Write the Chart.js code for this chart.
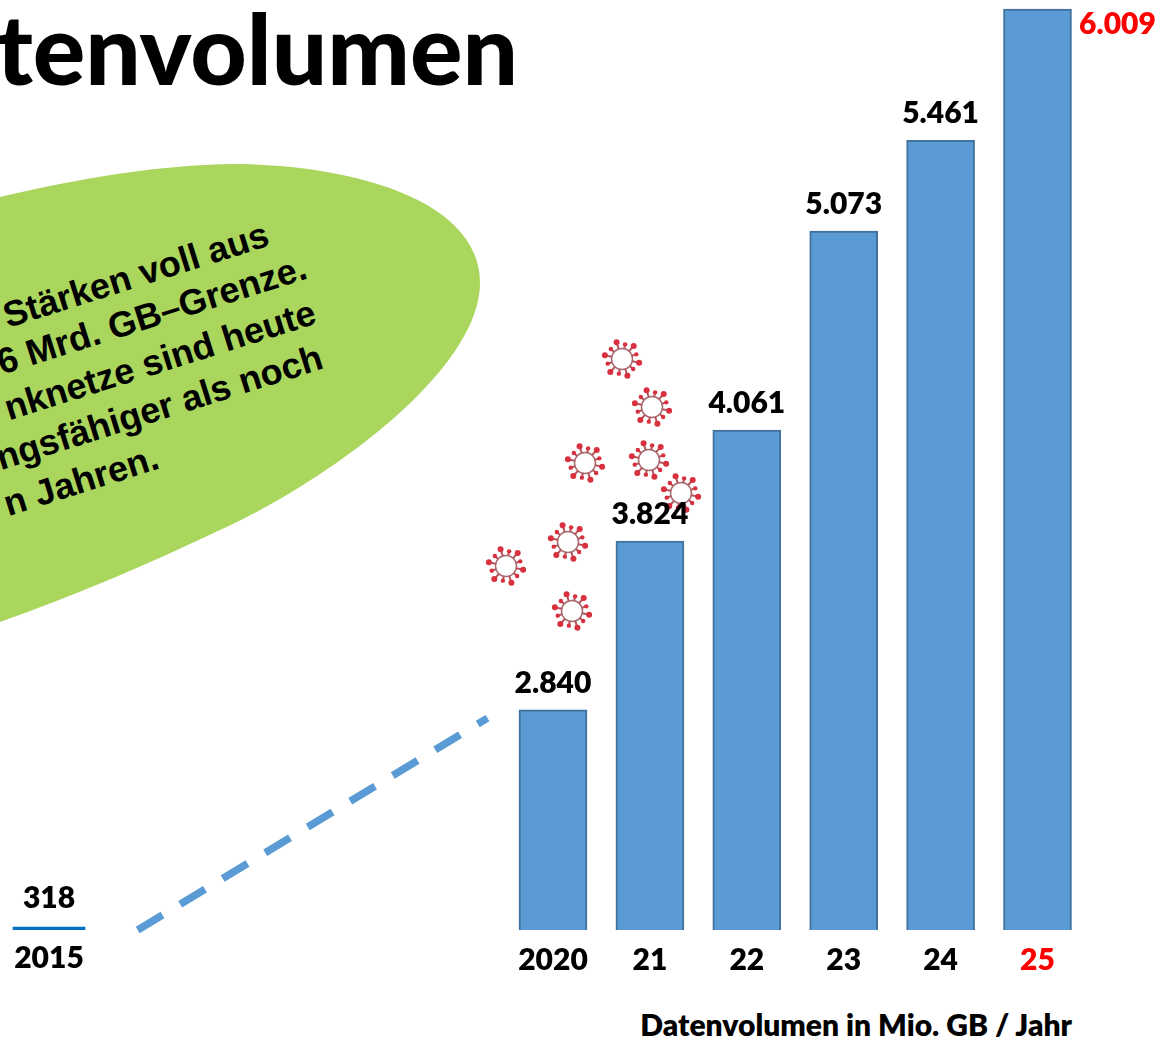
<!DOCTYPE html>
<html lang="de">
<head>
<meta charset="utf-8">
<title>Datenvolumen</title>
<script src="https://cdn.jsdelivr.net/npm/chart.js@4"></script>
<style>
    html, body { margin: 0; padding: 0; background: #fff; overflow: hidden; }
    #wrap { position: relative; width: 1156px; height: 1041px; overflow: hidden; }
    #deko, #myChart { position: absolute; left: 0; top: 0; }
</style>
</head>
<body>
<div id="wrap">
    <svg id="deko" width="1156" height="1041" viewBox="0 0 1156 1041">
        <path d="M0,197 C80,178 160,165 233,164 C340,164 480,195 480,283 C480,370 330,480 220,530 C140,568 70,597 0,622 Z" fill="#AAD65E"/>
        <text x="518" y="85" text-anchor="end" font-family="Lato" font-weight="900" font-size="98" fill="#000">Datenvolumen</text>
        <g font-family="Liberation Sans" font-weight="700" font-size="36" fill="#000" text-anchor="end">
            <text transform="translate(271,245) rotate(-17.5)">Stärken voll aus</text>
            <text transform="translate(309,278) rotate(-17.5)">6 Mrd. GB–Grenze.</text>
            <text transform="translate(318,323) rotate(-17.5)">nknetze sind heute</text>
            <text transform="translate(325,368) rotate(-17.5)">ngsfähiger als noch</text>
            <text transform="translate(161,468) rotate(-17.5)">n Jahren.</text>
        </g>
        <text x="1072" y="1036" text-anchor="end" font-family="Lato" font-weight="800" font-size="30" fill="#000">Datenvolumen in Mio. GB / Jahr</text>
        <g id="viren"></g>
    </svg>
    <canvas id="myChart" width="1156" height="1041"></canvas>
</div>
<script>
// Balken 2020-25
const years = [2020, 2021, 2022, 2023, 2024, 2025];
const yearLabels = ['2020', '21', '22', '23', '24', '25'];
const valueLabels = ['2.840', '3.824', '4.061', '5.073', '5.461', '6.009'];
// the bars in the picture are not drawn to scale: these are their heights
const barValues = [2840, 3603, 4105, 5005, 5416, 6009];

// 2015 on its own, much smaller scale
const earlyYear = [2015];
const earlyYearLabel = ['2015'];
const earlyValue = [318];
const earlyValueLabel = ['318'];

// gestrichelte Linie
const trendYears = [2015.88, 2019.35];
const trendValues = [1845, 2803];

const blau = '#5B9BD5';
const rot = '#FF0000';
const schrift = '800 30px Lato';

// Virus Deko
const viren = [[622, 359], [652, 407], [585, 463], [649, 460], [681, 493], [568, 542], [506, 566], [572, 611]];
const svgNS = 'http://www.w3.org/2000/svg';
const virenG = document.querySelector('#viren');

function svgEl(name, attrs) {
    const el = document.createElementNS(svgNS, name);
    for (const k in attrs) {
        el.setAttribute(k, attrs[k]);
    }
    virenG.appendChild(el);
    return el;
}

for (const v of viren) {
    svgEl('circle', { cx: v[0], cy: v[1], r: 10.5, fill: '#fff', stroke: '#A86B6F', 'stroke-width': 1.5 });
    for (let n = 0; n < 12; n++) {
        const w = (n * 30 + 12) * Math.PI / 180;
        const lang = n % 2 === 0 ? 17.5 : 15;
        const x1 = v[0] + Math.cos(w) * 10.5;
        const y1 = v[1] + Math.sin(w) * 10.5;
        const x2 = v[0] + Math.cos(w) * lang;
        const y2 = v[1] + Math.sin(w) * lang;
        svgEl('line', { x1: x1, y1: y1, x2: x2, y2: y2, stroke: '#B4535A', 'stroke-width': 2 });
        svgEl('circle', { cx: x2, cy: y2, r: n % 2 === 0 ? 3 : 2.2, fill: '#D8303F' });
    }
}

// Beschriftungen an den Balken
const wertePlugin = {
    id: 'werte',
    afterDatasetsDraw(chart) {
        const ctx = chart.ctx;
        ctx.save();
        ctx.font = schrift;
        ctx.textAlign = 'center';
        ctx.textBaseline = 'middle';

        const balken = chart.getDatasetMeta(0).data;
        balken.forEach(function(b, i) {
            if (i === balken.length - 1) {
                ctx.fillStyle = rot;
                ctx.fillText(valueLabels[i], b.x + 80, b.y + 15);
            } else {
                ctx.fillStyle = '#000';
                ctx.fillText(valueLabels[i], b.x, b.y - 27);
            }
        });

        const stummel = chart.getDatasetMeta(1).data[0];
        ctx.fillStyle = '#000';
        ctx.fillText(earlyValueLabel[0], stummel.x, stummel.y - 29);
        ctx.fillText(earlyYearLabel[0], stummel.x, stummel.y + 31);
        ctx.restore();
    }
};

new Chart(document.querySelector('#myChart'), {
    data: {
        datasets: [
            {
                type: 'bar',
                data: years.map((y, i) => ({ x: y, y: barValues[i] })),
                xAxisID: 'x',
                yAxisID: 'y',
                backgroundColor: blau,
                borderColor: '#41719C',
                borderWidth: 2,
                borderSkipped: false,
                barThickness: 68,
                grouped: false
            },
            {
                type: 'bar',
                data: earlyYear.map((y, i) => ({ x: y, y: earlyValue[i] })),
                xAxisID: 'x2',
                yAxisID: 'y2',
                backgroundColor: '#0070C0',
                barThickness: 72,
                grouped: false
            },
            {
                type: 'line',
                data: trendYears.map((y, i) => ({ x: y, y: trendValues[i] })),
                xAxisID: 'x2',
                yAxisID: 'y',
                borderColor: blau,
                borderWidth: 7.5,
                borderDash: [29, 20.7],
                pointRadius: 0,
                clip: false
            }
        ]
    },
    options: {
        responsive: false,
        animation: false,
        layout: { padding: { top: 0, left: 0, right: 0, bottom: 51 } },
        plugins: { legend: { display: false }, tooltip: { enabled: false } },
        scales: {
            x: {
                type: 'linear',
                offset: false,
                min: 2014.293,
                max: 2026.223,
                afterBuildTicks: function(axis) {
                    axis.ticks = years.map(y => ({ value: y }));
                },
                afterFit: function(axis) {
                    axis.height = 60;
                },
                grid: { display: false, drawTicks: false },
                border: { display: false },
                ticks: {
                    autoSkip: false,
                    maxRotation: 0,
                    padding: 12,
                    font: { family: 'Lato', weight: '800', size: 30 },
                    color: c => (c.tick.value === 2025 ? rot : '#000'),
                    callback: value => yearLabels[years.indexOf(value)]
                }
            },
            x2: { type: 'linear', display: false, offset: false, min: 2014.514, max: 2025.982 },
            y: { display: false, min: 1845, max: 6050 },
            y2: { display: false, min: 0, max: 98580 }
        }
    },
    plugins: [wertePlugin]
});
</script>
</body>
</html>
